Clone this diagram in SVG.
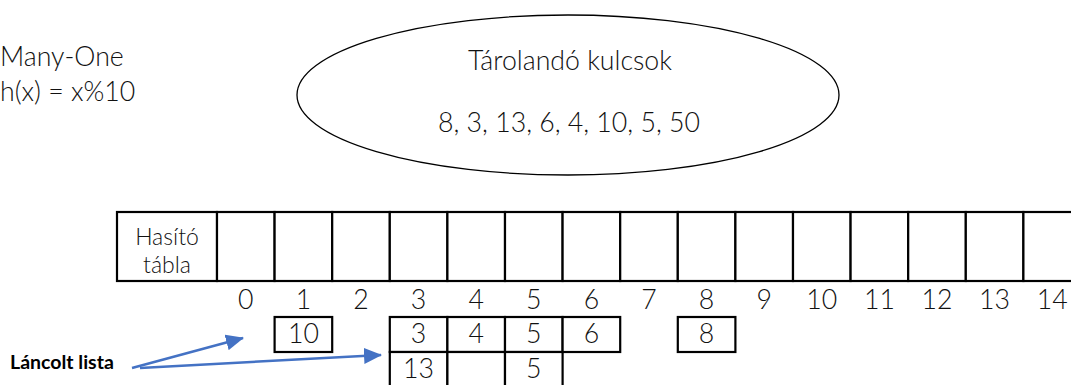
<svg xmlns="http://www.w3.org/2000/svg" width="1071" height="385" viewBox="0 0 1071 385">
<style>
.t{font-family:Lato,"Open Sans","Liberation Sans",sans-serif;font-weight:300;font-size:26.7px;fill:#111}
.m{text-anchor:middle}
.c{fill:#fff;stroke:#000;stroke-width:2.2}
.b{font-family:Lato,"Liberation Sans",sans-serif;font-weight:700;font-size:19.5px;fill:#000}
.a{stroke:#4472C4;stroke-width:2.5;fill:none}
.h{font-size:23px}
</style>
<defs>
<marker id="ah" markerUnits="userSpaceOnUse" markerWidth="18" markerHeight="16" refX="17" refY="8" orient="auto">
<path d="M0,0 L18,8 L0,16 Z" fill="#4472C4"/>
</marker>
</defs>
<rect width="1071" height="385" fill="#fff"/>
<g id="label-manyone">
<text class="t" x="0" y="66">Many-One</text>
<text class="t" x="0" y="101">h(x) = x%10</text>
</g>
<g id="keys">
<ellipse cx="568" cy="95" rx="271" ry="80" fill="#fff" stroke="#000" stroke-width="1.3"/>
<text class="t m" x="570" y="70">Tárolandó kulcsok</text>
<text class="t m" x="569" y="132">8, 3, 13, 6, 4, 10, 5, 50</text>
</g>
<g id="hash-table">
<rect class="c" x="117" y="212" width="100" height="69"/>
<rect class="c" x="217" y="212" width="57.6" height="69"/>
<rect class="c" x="274.6" y="212" width="57.6" height="69"/>
<rect class="c" x="332.2" y="212" width="57.6" height="69"/>
<rect class="c" x="389.8" y="212" width="57.6" height="69"/>
<rect class="c" x="447.4" y="212" width="57.6" height="69"/>
<rect class="c" x="505" y="212" width="57.6" height="69"/>
<rect class="c" x="562.6" y="212" width="57.6" height="69"/>
<rect class="c" x="620.2" y="212" width="57.6" height="69"/>
<rect class="c" x="677.8" y="212" width="57.6" height="69"/>
<rect class="c" x="735.4" y="212" width="57.6" height="69"/>
<rect class="c" x="793" y="212" width="57.6" height="69"/>
<rect class="c" x="850.6" y="212" width="57.6" height="69"/>
<rect class="c" x="908.2" y="212" width="57.6" height="69"/>
<rect class="c" x="965.8" y="212" width="57.6" height="69"/>
<rect class="c" x="1023.4" y="212" width="57.6" height="69"/>
<text class="t m h" x="167" y="245">Hasító</text>
<text class="t m h" x="167" y="273">tábla</text>
</g>
<g id="indices">
<text class="t m" x="245.8" y="309">0</text>
<text class="t m" x="303.4" y="309">1</text>
<text class="t m" x="361" y="309">2</text>
<text class="t m" x="418.6" y="309">3</text>
<text class="t m" x="476.2" y="309">4</text>
<text class="t m" x="533.8" y="309">5</text>
<text class="t m" x="591.4" y="309">6</text>
<text class="t m" x="649" y="309">7</text>
<text class="t m" x="706.6" y="309">8</text>
<text class="t m" x="764.2" y="309">9</text>
<text class="t m" x="821.8" y="309">10</text>
<text class="t m" x="879.4" y="309">11</text>
<text class="t m" x="937" y="309">12</text>
<text class="t m" x="994.6" y="309">13</text>
<text class="t m" x="1052.2" y="309">14</text>
</g>
<g id="list-1">
<rect class="c" x="274.6" y="317" width="57.6" height="35"/>
<text class="t m" x="303.4" y="343">10</text>
</g>
<g id="list-3">
<rect class="c" x="389.8" y="317" width="57.6" height="35"/>
<text class="t m" x="418.6" y="343">3</text>
<rect class="c" x="389.8" y="352" width="57.6" height="40"/>
<text class="t m" x="418.6" y="378">13</text>
</g>
<g id="list-4">
<rect class="c" x="447.4" y="317" width="57.6" height="35"/>
<text class="t m" x="476.2" y="343">4</text>
<rect class="c" x="447.4" y="352" width="57.6" height="40"/>
</g>
<g id="list-5">
<rect class="c" x="505" y="317" width="57.6" height="35"/>
<text class="t m" x="533.8" y="343">5</text>
<rect class="c" x="505" y="352" width="57.6" height="40"/>
<text class="t m" x="533.8" y="378">5</text>
</g>
<g id="list-6">
<rect class="c" x="562.6" y="317" width="57.6" height="35"/>
<text class="t m" x="591.4" y="343">6</text>
</g>
<g id="list-8">
<rect class="c" x="677.8" y="317" width="57.6" height="35"/>
<text class="t m" x="706.6" y="343">8</text>
</g>
<g id="label-lancolt">
<text class="b" x="10" y="369">Láncolt lista</text>
</g>
<g id="connectors">
<line class="a" x1="132" y1="368" x2="243" y2="338" marker-end="url(#ah)"/>
<line class="a" x1="140" y1="368" x2="381" y2="355" marker-end="url(#ah)"/>
</g>
</svg>
